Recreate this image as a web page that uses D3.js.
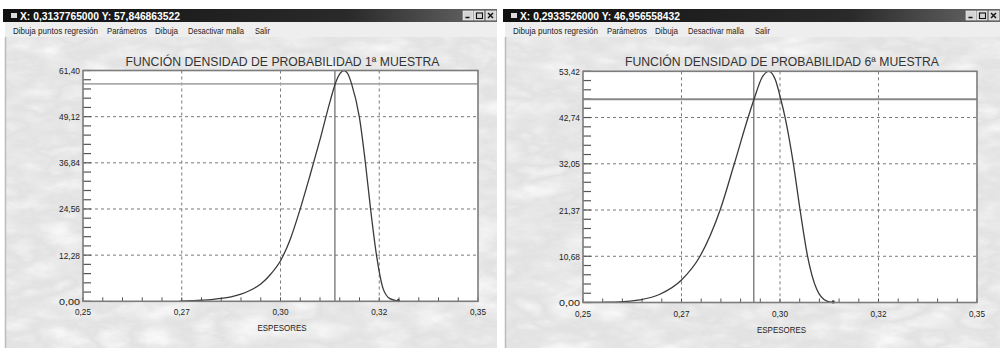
<!DOCTYPE html>
<html>
<head>
<meta charset="utf-8">
<script src="https://cdn.jsdelivr.net/npm/d3@7"></script>
<style>
  html, body { margin: 0; padding: 0; background: #fff; }
  svg { display: block; }
  text { font-family: "Liberation Sans", Arial, sans-serif; }
</style>
</head>
<body>
<svg id="chart" width="1000" height="348"></svg>
<script>
// ---- Data ---------------------------------------------------------------
const menuItems = ["Dibuja puntos regresión", "Parámetros", "Dibuja", "Desactivar malla", "Salir"];
const xAxisTitle = "ESPESORES";
const xTickValues = [0.25, 0.275, 0.30, 0.325, 0.35];
const xTickLabels = ["0,25", "0,27", "0,30", "0,32", "0,35"];

// Sample 1
const title1 = "FUNCIÓN DENSIDAD DE PROBABILIDAD 1ª MUESTRA";
const yTicks1 = [0, 12.28, 24.56, 36.84, 49.12, 61.40];
const yTickLabels1 = ["0,00", "12,28", "24,56", "36,84", "49,12", "61,40"];
const thickness1 = [0.2745, 0.2775, 0.2800, 0.2825, 0.2850, 0.2875, 0.2900, 0.2925, 0.2950, 0.2975,
                    0.3000, 0.3025, 0.3050, 0.3075, 0.3100, 0.3125, 0.3140, 0.3150, 0.3161, 0.3170,
                    0.3180, 0.3200, 0.3215, 0.3228, 0.3243, 0.3260, 0.3277, 0.3298];
const density1   = [0.03, 0.15, 0.28, 0.45, 0.75, 1.2, 1.9, 3.0, 4.6, 7.2,
                    10.8, 16.6, 24.6, 33.6, 43.0, 53.0, 58.3, 60.5, 61.40, 60.6,
                    57.85, 48.8, 36.8, 24.6, 12.3, 3.3, 0.7, 0.05];
const cursorX1 = 0.3137765;
const cursorY1 = 57.846863522;

// Sample 6
const title6 = "FUNCIÓN DENSIDAD DE PROBABILIDAD 6ª MUESTRA";
const yTicks6 = [0, 10.68, 21.37, 32.05, 42.74, 53.42];
const yTickLabels6 = ["0,00", "10,68", "21,37", "32,05", "42,74", "53,42"];
const thickness6 = [0.2500, 0.2550, 0.2593, 0.2644, 0.2695, 0.2750, 0.2797, 0.2848, 0.2884, 0.2919,
                    0.2934, 0.2955, 0.2972, 0.2988, 0.3002, 0.3013, 0.3034, 0.3051, 0.3070, 0.3093,
                    0.3119, 0.3135];
const density6   = [0.02, 0.05, 0.12, 0.6, 1.9, 5.2, 10.68, 21.37, 32.05, 42.74,
                    46.96, 52.1, 53.42, 51.5, 46.96, 42.74, 32.05, 21.37, 10.68, 3.1,
                    0.3, 0.02];
const cursorX6 = 0.2933526;
const cursorY6 = 46.956558432;

// ---- Drawing ------------------------------------------------------------
const svg = d3.select("#chart");
const defs = svg.append("defs");

// relief-like grey texture for the window background
const flt = defs.append("filter").attr("id", "relief")
  .attr("x", 0).attr("y", 0).attr("width", "100%").attr("height", "100%");
flt.append("feTurbulence").attr("type", "fractalNoise")
  .attr("baseFrequency", "0.022 0.05").attr("numOctaves", 6).attr("seed", 11);
flt.append("feColorMatrix").attr("type", "matrix")
  .attr("values", "0.33 0.33 0.33 0 0  0.33 0.33 0.33 0 0  0.33 0.33 0.33 0 0  0 0 0 0 1");
const ct = flt.append("feComponentTransfer");
["feFuncR", "feFuncG", "feFuncB"].forEach(f =>
  ct.append(f).attr("type", "table")
    .attr("tableValues", "1 1 0.98 0.91 0.82 0.76 0.85 0.94 0.99 1"));

const titleGrad = defs.append("linearGradient").attr("id", "titlebar")
  .attr("x1", 0).attr("x2", 1).attr("y1", 0).attr("y2", 0);
titleGrad.append("stop").attr("offset", 0).attr("stop-color", "#111");
titleGrad.append("stop").attr("offset", 0.7).attr("stop-color", "#2a2a2a");
titleGrad.append("stop").attr("offset", 1).attr("stop-color", "#6a6a6a");

svg.append("rect").attr("width", 1000).attr("height", 348).attr("fill", "#fff");

const fmtComma = (v, f) => d3.format(f)(v).replace(".", ",");

function drawWindow(cfg) {
  const g = svg.append("g");
  const { wx0, wx1, plot } = cfg;

  // client area with texture
  g.append("rect").attr("x", wx0).attr("y", 37).attr("width", wx1 - wx0).attr("height", 311)
    .attr("fill", "#f0f0f0");
  g.append("rect").attr("x", wx0).attr("y", 37).attr("width", wx1 - wx0).attr("height", 311)
    .attr("filter", "url(#relief)");
  g.append("line").attr("x1", wx0 + 0.5).attr("x2", wx0 + 0.5).attr("y1", 37).attr("y2", 348)
    .attr("stroke", "#bbb").attr("stroke-width", 1.5);

  // title bar
  g.append("rect").attr("x", wx0 - 2).attr("y", 9).attr("width", wx1 - wx0 + 2).attr("height", 13)
    .attr("fill", "url(#titlebar)");
  g.append("rect").attr("x", wx0 + 6).attr("y", 13).attr("width", 6).attr("height", 5)
    .attr("fill", "#ddd");
  g.append("text").attr("x", wx0 + 15).attr("y", 19.5)
    .attr("fill", "#fff").attr("font-size", 10).attr("font-weight", "bold")
    .attr("textLength", 160).attr("lengthAdjust", "spacingAndGlyphs")
    .text(`X: ${fmtComma(cfg.cursorX, ".10f")}   Y: ${fmtComma(cfg.cursorY, ".9f")}`);
  // caption buttons
  [0, 1, 2].forEach(i => {
    const bx = wx1 - 34 + i * 11 - (i === 2 ? -1 : 0);
    g.append("rect").attr("x", bx).attr("y", 11).attr("width", 10).attr("height", 9)
      .attr("fill", "#d4d4d4").attr("stroke", "#f4f4f4").attr("stroke-width", 0.6);
  });
  const bx0 = wx1 - 34;
  g.append("line").attr("x1", bx0 + 2.5).attr("x2", bx0 + 6.5).attr("y1", 17.5).attr("y2", 17.5)
    .attr("stroke", "#111").attr("stroke-width", 1.5);
  g.append("rect").attr("x", bx0 + 13.5).attr("y", 13).attr("width", 6).attr("height", 5.5)
    .attr("fill", "none").attr("stroke", "#111").attr("stroke-width", 1.1);
  g.append("path").attr("d", `M${bx0 + 25},13 l5,5 M${bx0 + 30},13 l-5,5`)
    .attr("stroke", "#111").attr("stroke-width", 1.4);

  // menu bar
  g.append("rect").attr("x", wx0).attr("y", 22).attr("width", wx1 - wx0).attr("height", 15)
    .attr("fill", "#eeeeee");
  const menuX = [13, 107, 155, 188, 255];
  const menuW = [85, 40, 23, 56, 15];
  menuItems.forEach((m, i) => {
    g.append("text").attr("x", wx0 + menuX[i] - 5).attr("y", 33.5)
      .attr("font-size", 9).attr("fill", "#222")
      .attr("textLength", menuW[i]).attr("lengthAdjust", "spacingAndGlyphs").text(m);
  });

  // chart title
  g.append("text").attr("x", (plot.x0 + plot.x1) / 2 + 2).attr("y", 65.5)
    .attr("text-anchor", "middle").attr("font-size", 13.5).attr("fill", "#333")
    .attr("textLength", 314).attr("lengthAdjust", "spacingAndGlyphs").text(cfg.title);

  const x = d3.scaleLinear().domain([0.25, 0.35]).range([plot.x0, plot.x1]);
  const yMax = cfg.yTicks[cfg.yTicks.length - 1];
  const y = d3.scaleLinear().domain([0, yMax]).range([plot.y1, plot.y0]);

  // plot background
  g.append("rect").attr("x", plot.x0).attr("y", plot.y0)
    .attr("width", plot.x1 - plot.x0).attr("height", plot.y1 - plot.y0).attr("fill", "#fff");

  // dashed grid
  g.append("g").selectAll("line").data(cfg.yTicks.slice(1, -1)).join("line")
    .attr("x1", plot.x0).attr("x2", plot.x1)
    .attr("y1", d => y(d)).attr("y2", d => y(d))
    .attr("stroke", "#7a7a7a").attr("stroke-width", 1).attr("stroke-dasharray", "3,3");
  g.append("g").selectAll("line").data(xTickValues.slice(1, -1)).join("line")
    .attr("x1", d => x(d)).attr("x2", d => x(d))
    .attr("y1", plot.y0).attr("y2", plot.y1)
    .attr("stroke", "#7a7a7a").attr("stroke-width", 1).attr("stroke-dasharray", "3,3");

  // minor ticks on the left axis (5 per major step)
  const yMinor = d3.range(0, 26).map(i => yMax * i / 25);
  g.append("g").selectAll("line").data(yMinor).join("line")
    .attr("x1", plot.x0).attr("x2", plot.x0 + 8)
    .attr("y1", d => y(d)).attr("y2", d => y(d))
    .attr("stroke", "#555").attr("stroke-width", 1.2);
  // minor ticks on the bottom axis (every 0.005)
  const xMinor = d3.range(0, 21).map(i => 0.25 + i * 0.005);
  g.append("g").selectAll("line").data(xMinor).join("line")
    .attr("x1", d => x(d)).attr("x2", d => x(d))
    .attr("y1", plot.y1).attr("y2", plot.y1 - 4)
    .attr("stroke", "#555").attr("stroke-width", 1);

  // tick labels
  g.append("g").selectAll("text").data(cfg.yTicks).join("text")
    .attr("x", plot.x0 - 3).attr("y", d => y(d) + 3.5)
    .attr("text-anchor", "end").attr("font-size", 9).attr("fill", "#222")
    .attr("textLength", 21).attr("lengthAdjust", "spacingAndGlyphs")
    .text((d, i) => cfg.yTickLabels[i]);
  g.append("g").selectAll("text").data(xTickValues).join("text")
    .attr("x", d => x(d)).attr("y", plot.y1 + 14)
    .attr("text-anchor", "middle").attr("font-size", 9).attr("fill", "#222")
    .attr("textLength", 16).attr("lengthAdjust", "spacingAndGlyphs")
    .text((d, i) => xTickLabels[i]);
  g.append("text").attr("x", x(0.3) - 23).attr("y", plot.y1 + 30)
    .attr("font-size", 9).attr("fill", "#222")
    .attr("textLength", 49).attr("lengthAdjust", "spacingAndGlyphs").text(xAxisTitle);

  // cursor cross-hair
  g.append("line").attr("x1", plot.x0).attr("x2", plot.x1)
    .attr("y1", y(cfg.cursorY)).attr("y2", y(cfg.cursorY))
    .attr("stroke", cfg.hColor).attr("stroke-width", 1.8);
  g.append("line").attr("x1", x(cfg.cursorX)).attr("x2", x(cfg.cursorX))
    .attr("y1", plot.y0).attr("y2", plot.y1)
    .attr("stroke", "#666").attr("stroke-width", 1.2);

  // density curve
  const pts = cfg.xs.map((v, i) => [v, cfg.ys[i]]);
  const line = d3.line().x(d => x(d[0])).y(d => y(d[1])).curve(d3.curveMonotoneX);
  g.append("path").datum(pts).attr("d", line)
    .attr("fill", "none").attr("stroke", "#3a3a3a").attr("stroke-width", 1.3);
  const last = pts[pts.length - 1];
  g.append("circle").attr("cx", x(last[0])).attr("cy", y(last[1]) - 0.5).attr("r", 1.6).attr("fill", "#222");

  // frame
  g.append("rect").attr("x", plot.x0).attr("y", plot.y0)
    .attr("width", plot.x1 - plot.x0).attr("height", plot.y1 - plot.y0)
    .attr("fill", "none").attr("stroke", "#7c7c7c").attr("stroke-width", 1.6);
}

drawWindow({
  wx0: 5, wx1: 497,
  plot: { x0: 83, x1: 478, y0: 70.5, y1: 301.3 },
  title: title1, yTicks: yTicks1, yTickLabels: yTickLabels1,
  xs: thickness1, ys: density1, cursorX: cursorX1, cursorY: cursorY1, hColor: "#aaa"
});
drawWindow({
  wx0: 505, wx1: 1000,
  plot: { x0: 583, x1: 977, y0: 71.3, y1: 302.5 },
  title: title6, yTicks: yTicks6, yTickLabels: yTickLabels6,
  xs: thickness6, ys: density6, cursorX: cursorX6, cursorY: cursorY6, hColor: "#888"
});
</script>
</body>
</html>
